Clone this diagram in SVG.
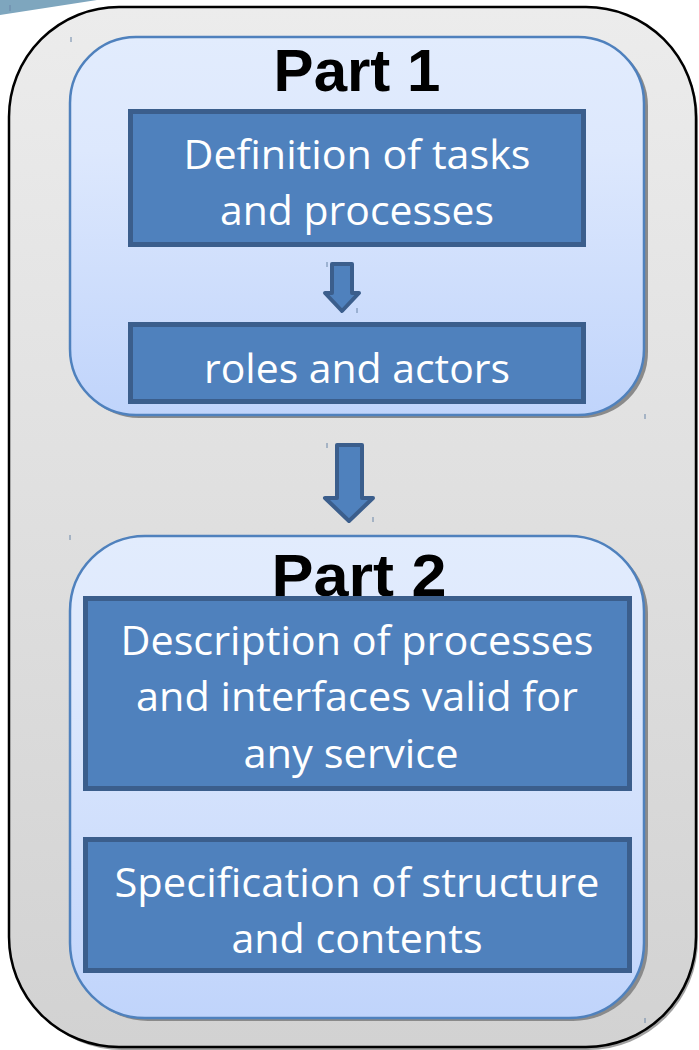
<svg xmlns="http://www.w3.org/2000/svg" width="699" height="1050" viewBox="0 0 699 1050">
<defs>
<linearGradient id="gOuter" x1="0" y1="0" x2="0" y2="1">
<stop offset="0" stop-color="#ececec"/>
<stop offset="1" stop-color="#d2d2d2"/>
</linearGradient>
<linearGradient id="gPart" x1="0" y1="0" x2="0" y2="1">
<stop offset="0" stop-color="#e2ecfd"/>
<stop offset="0.3" stop-color="#dde8fd"/>
<stop offset="1" stop-color="#c0d4fb"/>
</linearGradient>
<style>
.part{fill:url(#gPart);stroke:#4f81bd;stroke-width:2.5}
.shadow{fill:#8a8a8a}
.box{fill:#4f81bd;stroke:#3b5e8c;stroke-width:5}
.arrow{fill:#4f81bd;stroke:#3b5e8c;stroke-width:4;stroke-linejoin:round}
.title{font-family:"Liberation Sans",Arial,sans-serif;font-weight:bold;font-size:60px;fill:#000;text-anchor:middle}
.lbl{font-family:"Open Sans","Noto Sans","Liberation Sans",sans-serif;font-size:41px;fill:#fff;text-anchor:middle}
.tick{stroke:#6a86a8;stroke-width:1}
</style>
</defs>
<polygon points="0,0 97,0 0,15" fill="#7ea6be"/>
<g id="outer">
<rect x="12" y="10" width="686" height="1040" rx="110" class="shadow" fill-opacity="0.8"/>
<rect x="9" y="7" width="687" height="1040" rx="110" fill="url(#gOuter)" stroke="#000" stroke-width="2.5"/>
</g>
<g id="part1">
<rect x="73" y="40" width="575" height="378" rx="66" class="shadow"/>
<rect x="70" y="37" width="574" height="378" rx="66" class="part"/>
<text x="357" y="91" class="title">Part 1</text>
</g>
<g id="definition">
<rect x="130.5" y="111.5" width="453" height="133" class="box"/>
<text x="357" y="169" class="lbl" textLength="347" lengthAdjust="spacingAndGlyphs">Definition of tasks</text>
<text x="357" y="225" class="lbl" textLength="274" lengthAdjust="spacingAndGlyphs">and processes</text>
</g>
<g id="roles">
<rect x="130.5" y="324.5" width="453" height="77" class="box"/>
<text x="357" y="383" class="lbl" textLength="306" lengthAdjust="spacingAndGlyphs">roles and actors</text>
</g>
<g id="part2">
<rect x="73" y="539" width="575" height="482" rx="75" class="shadow"/>
<rect x="70" y="536" width="574" height="482" rx="75" class="part"/>
<text x="359" y="596" class="title" textLength="175" lengthAdjust="spacingAndGlyphs">Part 2</text>
</g>
<g id="description">
<rect x="85.5" y="598.5" width="544" height="190" class="box"/>
<text x="357" y="655" class="lbl" textLength="473" lengthAdjust="spacingAndGlyphs">Description of processes</text>
<text x="357" y="711" class="lbl" textLength="442" lengthAdjust="spacingAndGlyphs">and interfaces valid for</text>
<text x="351" y="768" class="lbl" textLength="215" lengthAdjust="spacingAndGlyphs">any service</text>
</g>
<g id="specification">
<rect x="85.5" y="839.5" width="544" height="131" class="box"/>
<text x="357" y="897" class="lbl" textLength="485" lengthAdjust="spacingAndGlyphs">Specification of structure</text>
<text x="357" y="953" class="lbl" textLength="251" lengthAdjust="spacingAndGlyphs">and contents</text>
</g>
<g id="connectors">
<polygon class="arrow" points="332,264 352,264 352,293 359,293 342,311 325,293 332,293"/>
<polygon class="arrow" points="337,445 362,445 362,498 373,498 349,521 325,498 337,498"/>
</g>
<g id="marks">
<line class="tick" x1="71" y1="37" x2="71" y2="42"/>
<line class="tick" x1="327" y1="262" x2="327" y2="267"/>
<line class="tick" x1="357" y1="308" x2="357" y2="313"/>
<line class="tick" x1="327" y1="443" x2="327" y2="448"/>
<line class="tick" x1="373" y1="517" x2="373" y2="522"/>
<line class="tick" x1="70" y1="535" x2="70" y2="540"/>
<line class="tick" x1="645" y1="414" x2="645" y2="419"/>
<line class="tick" x1="645" y1="1018" x2="645" y2="1023"/>
<line class="tick" x1="10" y1="5" x2="10" y2="11"/>
</g>
</svg>
